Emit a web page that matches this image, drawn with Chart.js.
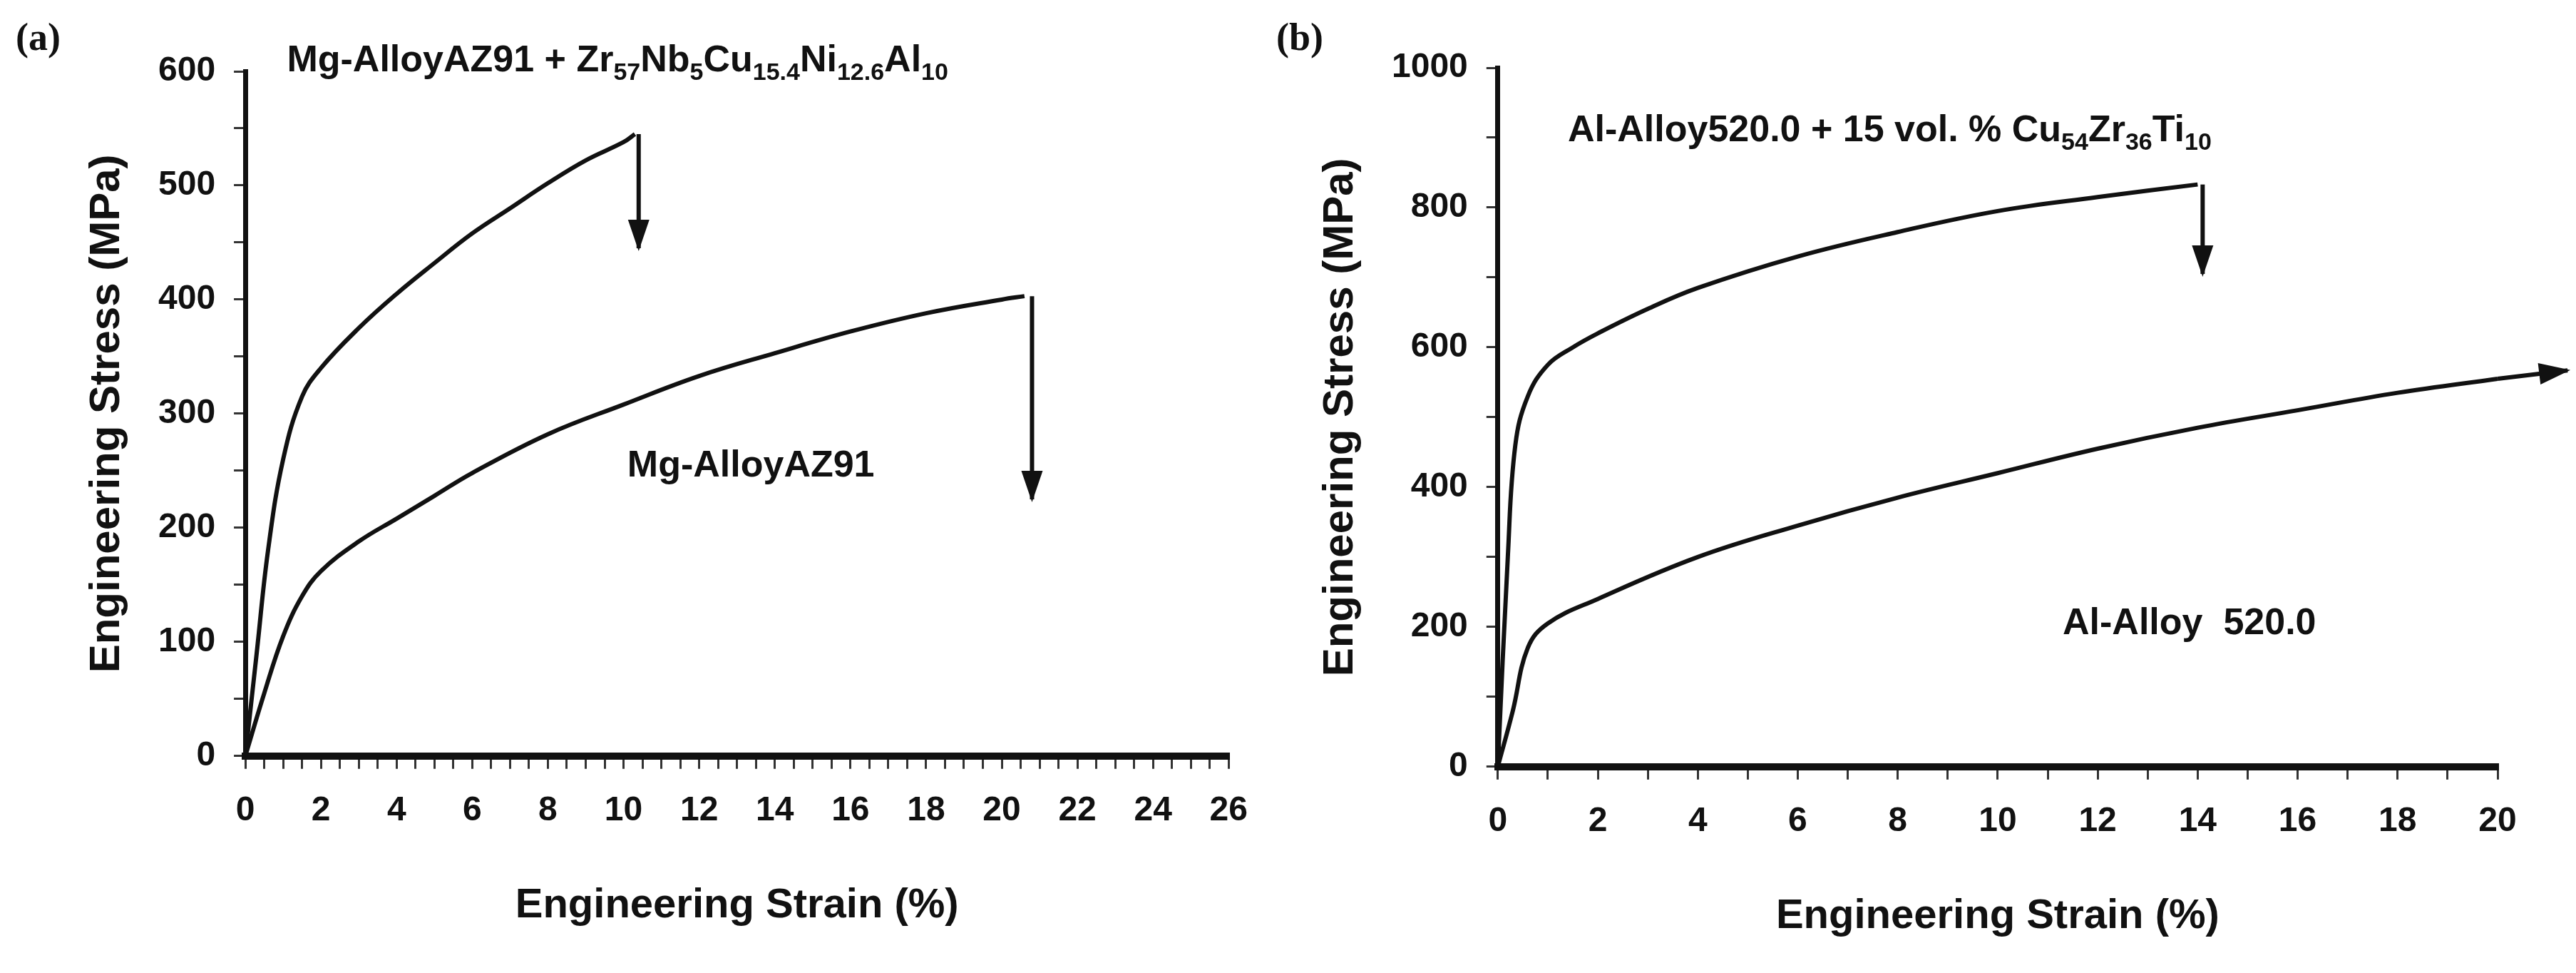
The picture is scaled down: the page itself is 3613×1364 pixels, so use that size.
<!DOCTYPE html>
<html lang="en">
<head>
<meta charset="utf-8">
<title>Stress-strain</title>
<script src="https://cdn.jsdelivr.net/npm/chart.js@4.4.1/dist/chart.umd.min.js"></script>
<style>
  body { margin: 0; background: #fff; }
  .wrap { position: absolute; top: 0; height: 1364px; }
</style>
</head>
<body>
<div class="wrap" style="left:0;width:1780px"><canvas id="chartA"></canvas></div>
<div class="wrap" style="left:1780px;width:1833px"><canvas id="chartB"></canvas></div>
<script>
// panel (a) data
const strainA_comp = [0, 0.3, 0.6, 1, 1.5, 2, 3, 4, 5, 6, 7, 8, 9, 10, 10.3];
const stressA_comp = [0, 90, 180, 260, 315, 340, 375, 405, 432, 458, 480, 502, 522, 538, 545];
const strainA_mg = [0, 0.5, 1, 1.5, 2, 3, 4, 5, 6, 8, 10, 12, 14, 16, 18, 20, 20.6];
const stressA_mg = [0, 55, 105, 140, 162, 188, 208, 228, 248, 282, 308, 333, 353, 372, 388, 400, 403];
// panel (b) data
const strainB_comp = [0, 0.2, 0.35, 0.6, 1, 1.5, 2, 3, 4, 6, 8, 10, 12, 14];
const stressB_comp = [0, 300, 460, 530, 575, 600, 620, 655, 685, 730, 765, 795, 815, 833];
const strainB_al = [0, 0.3, 0.6, 1, 2, 4, 6, 8, 10, 12, 14, 16, 18, 20];
const stressB_al = [0, 80, 170, 205, 240, 300, 345, 385, 420, 455, 485, 510, 535, 555];

const FONT = "'Liberation Sans Narrow', 'Liberation Sans', Arial, sans-serif";
const toXY = (xs, ys) => xs.map((x, i) => ({ x: x, y: ys[i] }));

// arrows and annotations drawn with scale conversions
const extras = (cfg) => ({
  id: 'extras',
  afterDraw(chart) {
    const c = chart.ctx, sx = chart.scales.x, sy = chart.scales.y;
    c.save();
    c.strokeStyle = '#111'; c.fillStyle = '#111'; c.lineWidth = 6;
    cfg.arrows.forEach(a => {
      const x0 = sx.getPixelForValue(a[0]), y0 = sy.getPixelForValue(a[1]);
      const x1 = sx.getPixelForValue(a[2]), y1 = sy.getPixelForValue(a[3]);
      c.beginPath(); c.moveTo(x0, y0); c.lineTo(x1, y1); c.stroke();
      const ang = Math.atan2(y1 - y0, x1 - x0), L = 40, W = 15;
      c.beginPath();
      c.moveTo(x1 + Math.cos(ang) * 4, y1 + Math.sin(ang) * 4);
      c.lineTo(x1 - L * Math.cos(ang) + W * Math.sin(ang), y1 - L * Math.sin(ang) - W * Math.cos(ang));
      c.lineTo(x1 - L * Math.cos(ang) - W * Math.sin(ang), y1 - L * Math.sin(ang) + W * Math.cos(ang));
      c.closePath(); c.fill();
    });
    cfg.texts.forEach(t => {
      let x = sx.getPixelForValue(t.x);
      const y = sy.getPixelForValue(t.y);
      c.textBaseline = 'alphabetic'; c.textAlign = 'left';
      t.parts.forEach(p => {
        const sub = p[1];
        c.font = 'bold ' + (sub ? 34 : 52) + 'px ' + "'Liberation Sans', Arial, sans-serif";
        c.fillText(p[0], x, y + (sub ? 12 : 0));
        x += c.measureText(p[0]).width;
      });
    });
    c.font = 'bold 54px "Liberation Serif", serif';
    c.fillText(cfg.panel, cfg.panelX, 70);
    c.restore();
  }
});

const makeChart = (id, datasets, xmax, xstep, xlabelEvery, ymax, ystep, ylabelEvery, pad, plug) => new Chart(document.getElementById(id), {
  type: 'scatter',
  data: { datasets: datasets.map(d => ({ data: d, showLine: true, borderColor: '#111', borderWidth: 6, pointRadius: 0, tension: 0.4, clip: false })) },
  options: {
    responsive: true, maintainAspectRatio: false, animation: false,
    layout: { padding: pad },
    plugins: { legend: { display: false }, tooltip: { enabled: false } },
    scales: {
      x: {
        min: 0, max: xmax,
        border: { color: '#111', width: 10 },
        grid: { drawOnChartArea: false, color: '#333', tickLength: 18, lineWidth: 3 },
        ticks: { stepSize: xstep, autoSkip: false, maxRotation: 0, color: '#111', padding: 30,
          font: { family: FONT, size: 48, weight: 'bold' },
          callback: v => (Math.abs(v / xlabelEvery - Math.round(v / xlabelEvery)) < 1e-6 ? v : '') },
        title: { display: true, text: 'Engineering Strain (%)', color: '#111', padding: { top: 40 },
          font: { family: "'Liberation Sans', Arial, sans-serif", size: 58, weight: 'bold' } }
      },
      y: {
        min: 0, max: ymax,
        border: { color: '#111', width: 7 },
        grid: { drawOnChartArea: false, color: '#333', tickLength: 16, lineWidth: 3 },
        ticks: { stepSize: ystep, autoSkip: false, color: '#111', padding: 26,
          font: { family: FONT, size: 48, weight: 'bold' },
          callback: v => (v % ylabelEvery === 0 ? v : '') },
        title: { display: true, text: 'Engineering Stress (MPa)', color: '#111', padding: { bottom: 10 },
          font: { family: "'Liberation Sans', Arial, sans-serif", size: 60, weight: 'bold' } }
      }
    }
  },
  plugins: [plug]
});

makeChart('chartA', [toXY(strainA_comp, stressA_comp), toXY(strainA_mg, stressA_mg)],
  26, 0.5, 2, 600, 50, 100, { left: 110, top: 100, right: 10, bottom: 55 },
  extras({
    panel: '(a)', panelX: 22,
    arrows: [[10.4, 545, 10.4, 445], [20.8, 403, 20.8, 225]],
    texts: [
      { x: 1.1, y: 600, parts: [['Mg-AlloyAZ91 + Zr'], ['57', 1], ['Nb'], ['5', 1], ['Cu'], ['15.4', 1], ['Ni'], ['12.6', 1], ['Al'], ['10', 1]] },
      { x: 10.1, y: 245, parts: [['Mg-AlloyAZ91']] }
    ]
  }));

makeChart('chartB', [toXY(strainB_comp, stressB_comp), toXY(strainB_al, stressB_al)],
  20, 1, 2, 1000, 100, 200, { left: 60, top: 95, right: 110, bottom: 40 },
  extras({
    panel: '(b)', panelX: 10,
    arrows: [[14.1, 833, 14.1, 705], [20, 555, 21.4, 567]],
    texts: [
      { x: 1.4, y: 895, parts: [['Al-Alloy520.0 + 15 vol. % Cu'], ['54', 1], ['Zr'], ['36', 1], ['Ti'], ['10', 1]] },
      { x: 11.3, y: 190, parts: [['Al-Alloy  520.0']] }
    ]
  }));
</script>
</body>
</html>
